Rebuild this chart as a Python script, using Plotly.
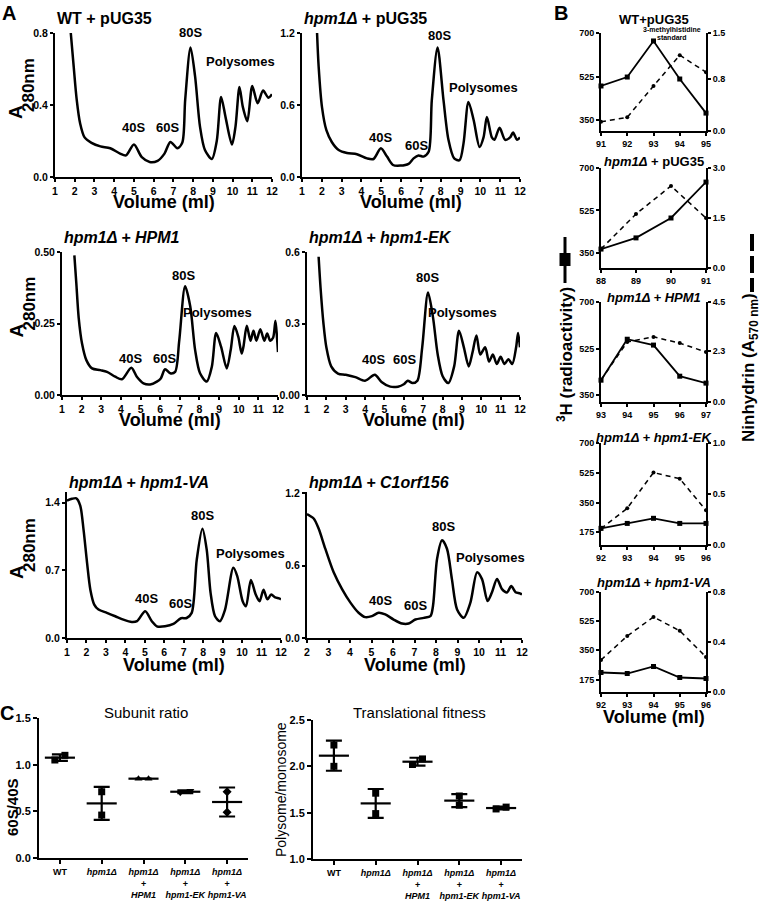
import plotly.graph_objects as go
import numpy as np

FONT = "Liberation Sans, Arial, Helvetica, sans-serif"
W, H = 760, 905

# ---------------- Panel A: polysome profiles (Volume ml vs A280) ----------------
a1_vol = [1.8, 1.95, 2.1, 2.27, 2.5, 2.85, 3.3, 3.8, 4.3, 4.6, 5.0, 5.4, 5.8, 6.2, 6.55, 6.85, 7.2, 7.45, 7.6, 7.87,
          8.1, 8.35, 8.6, 8.95, 9.2, 9.42, 9.65, 9.97, 10.15, 10.35, 10.52, 10.75, 11.0, 11.27, 11.55, 11.82, 12.0]
a1_abs = [0.80, 0.61, 0.43, 0.30, 0.22, 0.19, 0.17, 0.16, 0.13, 0.12, 0.18, 0.11, 0.083, 0.09, 0.13, 0.195, 0.16, 0.19, 0.43, 0.72,
          0.56, 0.28, 0.15, 0.10, 0.20, 0.445, 0.33, 0.18, 0.28, 0.50, 0.39, 0.31, 0.505, 0.41, 0.48, 0.44, 0.46]

a2_vol = [1.76, 1.84, 2.01, 2.23, 2.51, 2.85, 3.27, 3.77, 4.28, 4.61, 4.98, 5.29, 5.59, 5.96, 6.38, 6.63, 6.88, 7.13, 7.39, 7.55,
          7.84, 8.14, 8.39, 8.68, 8.95, 9.15, 9.40, 9.66, 9.96, 10.16, 10.33, 10.58, 10.71, 10.97, 11.25, 11.5, 11.65, 11.85, 12.0]
a2_abs = [1.2, 0.92, 0.58, 0.39, 0.29, 0.225, 0.20, 0.19, 0.155, 0.15, 0.24, 0.17, 0.10, 0.095, 0.11, 0.155, 0.18, 0.17, 0.21, 0.64,
          1.08, 0.64, 0.31, 0.155, 0.14, 0.28, 0.625, 0.475, 0.25, 0.33, 0.5, 0.33, 0.31, 0.41, 0.31, 0.33, 0.37, 0.31, 0.33]

a3_vol = [1.63, 1.73, 1.85, 2.02, 2.24, 2.53, 2.95, 3.29, 3.71, 4.05, 4.53, 4.81, 5.15, 5.49, 5.83, 6.03, 6.25, 6.51, 6.76, 6.97,
          7.27, 7.53, 7.78, 8.03, 8.37, 8.63, 8.85, 9.1, 9.39, 9.59, 9.78, 9.98, 10.15, 10.24, 10.41, 10.6, 10.75, 10.9, 11.1,
          11.3, 11.45, 11.6, 11.75, 11.87, 11.95, 12.0]
a3_abs = [0.488, 0.39, 0.27, 0.18, 0.122, 0.093, 0.087, 0.081, 0.064, 0.055, 0.095, 0.064, 0.041, 0.037, 0.047, 0.058, 0.09, 0.076,
          0.081, 0.19, 0.38, 0.31, 0.157, 0.076, 0.047, 0.099, 0.217, 0.169, 0.093, 0.157, 0.241, 0.203, 0.145, 0.169, 0.242, 0.19,
          0.225, 0.19, 0.23, 0.19, 0.215, 0.19, 0.2, 0.26, 0.2, 0.15]

a4_vol = [1.6, 1.7, 1.85, 2.0, 2.25, 2.6, 3.0, 3.5, 4.0, 4.5, 4.85, 5.3, 5.7, 6.0, 6.2, 6.45, 6.7, 6.95, 7.25, 7.5, 7.75, 8.0,
          8.3, 8.6, 8.85, 9.1, 9.35, 9.55, 9.75, 9.95, 10.2, 10.4, 10.6, 10.8, 11.0, 11.2, 11.4, 11.6, 11.8, 11.9, 12.0]
a4_abs = [0.58, 0.45, 0.3, 0.2, 0.12, 0.09, 0.085, 0.075, 0.06, 0.085, 0.055, 0.035, 0.035, 0.045, 0.06, 0.05, 0.06, 0.2, 0.43,
          0.33, 0.17, 0.08, 0.05, 0.12, 0.27, 0.2, 0.12, 0.18, 0.25, 0.17, 0.2, 0.14, 0.17, 0.13, 0.16, 0.13, 0.15, 0.13, 0.2, 0.26, 0.2]

a5_vol = [1.0, 1.26, 1.48, 1.68, 1.85, 2.03, 2.2, 2.4, 2.62, 3.05, 3.48, 3.9, 4.33, 4.6, 5.02, 5.36, 5.62, 6.04, 6.47, 6.86,
          7.15, 7.41, 7.67, 7.96, 8.18, 8.38, 8.61, 8.86, 9.12, 9.55, 9.75, 10.03, 10.2, 10.45, 10.7, 10.9, 11.1, 11.3, 11.5,
          11.7, 11.9, 12.0]
a5_abs = [1.42, 1.44, 1.445, 1.37, 1.12, 0.78, 0.50, 0.346, 0.294, 0.26, 0.225, 0.19, 0.166, 0.175, 0.277, 0.173, 0.121, 0.121,
          0.145, 0.204, 0.207, 0.26, 0.81, 1.13, 0.916, 0.467, 0.225, 0.173, 0.29, 0.726, 0.64, 0.38, 0.328, 0.6, 0.45, 0.38,
          0.5, 0.4, 0.45, 0.42, 0.41, 0.4]

a6_vol = [2.0, 2.31, 2.54, 2.85, 3.24, 3.63, 4.02, 4.4, 4.71, 5.02, 5.33, 5.64, 6.03, 6.42, 6.73, 7.04, 7.43, 7.74, 7.86, 8.05,
          8.28, 8.51, 8.74, 8.98, 9.29, 9.6, 9.91, 10.14, 10.4, 10.6, 10.84, 11.07, 11.3, 11.5, 11.7, 11.9, 12.0]
a6_abs = [1.027, 0.99, 0.907, 0.74, 0.544, 0.405, 0.293, 0.209, 0.173, 0.181, 0.209, 0.195, 0.153, 0.12, 0.12, 0.153, 0.167,
          0.181, 0.265, 0.656, 0.81, 0.74, 0.488, 0.237, 0.167, 0.293, 0.544, 0.488, 0.307, 0.377, 0.488, 0.405, 0.377, 0.43,
          0.38, 0.37, 0.36]

a_titles = ["<b>WT + pUG35</b>", "<b><i>hpm1Δ</i> + pUG35</b>", "<b><i>hpm1Δ + HPM1</i></b>",
            "<b><i>hpm1Δ + hpm1-EK</i></b>", "<b><i>hpm1Δ + hpm1-VA</i></b>", "<b><i>hpm1Δ + C1orf156</i></b>"]

# ---------------- Panel B: fractions, 3H (cpm) and ninhydrin (A570) ----------------
b_titles = ["<b>WT+pUG35</b>", "<b><i>hpm1Δ</i> + pUG35</b>", "<b><i>hpm1Δ + HPM1</i></b>",
            "<b><i>hpm1Δ + hpm1-EK</i></b>", "<b><i>hpm1Δ + hpm1-VA</i></b>"]
b1_vol = [91, 92, 93, 94, 95]
b1_h3 = [487, 523, 668, 515, 378]
b1_nin = [0.14, 0.21, 0.69, 1.16, 0.90]
b2_vol = [88, 89, 90, 91]
b2_h3 = [366, 412, 494, 642]
b2_nin = [0.57, 1.62, 2.46, 1.5]
b3_vol = [93, 94, 95, 96, 97]
b3_h3 = [406, 560, 538, 421, 395]
b3_nin = [0.99, 2.7, 2.93, 2.65, 2.25]
b4_vol = [92, 93, 94, 95, 96]
b4_h3 = [198, 227, 257, 227, 227]
b4_nin = [0.16, 0.36, 0.71, 0.65, 0.34]
b5_vol = [92, 93, 94, 95, 96]
b5_h3 = [217, 211, 253, 187, 181]
b5_nin = [0.256, 0.448, 0.6, 0.49, 0.28]

# ---------------- Panel C ----------------
c_strains = ["<b>WT</b>", "<i>hpm1Δ</i>", "<i>hpm1Δ</i><br>+<br><i>HPM1</i>",
             "<i>hpm1Δ</i><br>+<br><i>hpm1-EK</i>", "<i>hpm1Δ</i><br>+<br><i>hpm1-VA</i>"]
ratio_rep1 = [1.10, 0.71, 0.85, 0.72, 0.71]
ratio_rep2 = [1.05, 0.46, 0.85, 0.70, 0.49]
fitness_rep1 = [2.23, 1.71, 2.08, 1.68, 1.56]
fitness_rep2 = [2.00, 1.49, 2.02, 1.58, 1.54]

# ============================================================================
def fx(p):
    return p / W


def fy(p):
    return 1 - p / H


def tfont(size, weight="bold"):
    return dict(family=FONT, size=size, color="black", weight=weight)


def base_axis(size=11, ticklen=4):
    return dict(showline=True, linecolor="black", linewidth=2, showgrid=False, zeroline=False,
                ticks="outside", ticklen=ticklen, tickwidth=1.5, tickcolor="black", tickfont=tfont(size),
                tickangle=0, automargin=False)


fig = go.Figure()
layout = {}
annotations = []
shapes = []


def ann(text, x, y, size, angle=0, xanchor="center", yanchor="middle", weight="bold"):
    annotations.append(dict(text=text, x=fx(x), y=fy(y), xref="paper", yref="paper", showarrow=False,
                            textangle=angle, xanchor=xanchor, yanchor=yanchor, font=tfont(size, weight)))


# ---- Panel A axes
a_data = [(a1_vol, a1_abs), (a2_vol, a2_abs), (a3_vol, a3_abs), (a4_vol, a4_abs), (a5_vol, a5_abs), (a6_vol, a6_abs)]
a_boxes = [(55, 272, 33, 177), (302, 520, 33, 177), (62, 278, 252, 395),
           (307, 520, 252, 395), (67, 281, 492, 638), (307, 522, 492, 638)]
a_xr = [[1, 12], [1, 12], [1, 12], [1, 12], [1, 12], [2, 12]]
a_yr = [[0, 0.8], [0, 1.2], [0, 0.5], [0, 0.6], [0, 1.51], [0, 1.21]]
a_yt = [[0, 0.4, 0.8], [0, 0.6, 1.2], [0, 0.25, 0.5], [0, 0.3, 0.6], [0, 0.7, 1.4], [0, 0.6, 1.2]]
a_ytt = [["0.0", "0.4", "0.8"], ["0.0", "0.6", "1.2"], ["0.00", "0.25", "0.50"], ["0.00", "0.3", "0.6"],
         ["0.0", "0.7", "1.4"], ["0.0", "0.6", "1.2"]]
a_title_y = [18, 18, 238, 238, 482, 482]
a_vol_dy = [25, 25, 25, 25, 27, 27]

for i in range(6):
    n = i + 1
    x0, x1, yt, yb = a_boxes[i]
    xa = base_axis(10.5, 3)
    xa.update(domain=[fx(x0), fx(x1)], anchor=f"y{n}", range=a_xr[i],
              tickvals=list(range(a_xr[i][0], 13)))
    ya = base_axis(10.5, 3)
    ya.update(domain=[fy(yb), fy(yt)], anchor=f"x{n}", range=a_yr[i], tickvals=a_yt[i], ticktext=a_ytt[i])
    layout[f"xaxis{n}"] = xa
    layout[f"yaxis{n}"] = ya
    vx, vy = a_data[i]
    fig.add_trace(go.Scatter(x=vx, y=vy, mode="lines", xaxis=f"x{n}", yaxis=f"y{n}",
                             line=dict(color="black", width=2.5, shape="spline", smoothing=0.8),
                             showlegend=False, hoverinfo="skip"))
    ann(a_titles[i], x0, a_title_y[i], 16, xanchor="left")
    ann("Volume (ml)", (x0 + x1) / 2, yb + a_vol_dy[i], 18)
    if i % 2 == 0:
        cy = (yt + yb) / 2
        ann("A", 16, cy + 7, 19, angle=-90)
        ann("280nm", 29, cy - 20, 17, angle=-90)

# peak labels
peak_labels = [
    (133, 127, 167, 127, 190, 33, 240, 62),
    (381, 137, 416, 145, 439, 35, 483, 87),
    (130, 358, 164, 358, 183, 275, 217, 312),
    (373, 359, 404, 359, 427, 277, 462, 312),
    (146, 598, 180, 603, 202, 515, 250, 553),
    (380, 600, 415, 605, 443, 526, 490, 557),
]
for (x40, y40, x60, y60, x80, y80, xp, yp) in peak_labels:
    ann("40S", x40, y40, 13)
    ann("60S", x60, y60, 13)
    ann("80S", x80, y80, 13)
    ann("Polysomes", xp, yp, 13)

# ---- Panel B
b_data = [(b1_vol, b1_h3, b1_nin), (b2_vol, b2_h3, b2_nin), (b3_vol, b3_h3, b3_nin),
          (b4_vol, b4_h3, b4_nin), (b5_vol, b5_h3, b5_nin)]
b_box_y = [(33, 131), (168, 268), (302, 402), (443, 545), (592, 692)]
b_title_y = [19, 161, 297, 437, 582]
b_lr = [[306, 700], [288, 700], [324, 700], [100, 700], [100, 700]]
b_lt = [[350, 525, 700], [350, 525, 700], [350, 525, 700], [175, 350, 525, 700], [175, 350, 525, 700]]
b_rr = [[0, 1.5], [0, 3.0], [0, 4.5], [0, 1.0], [0, 0.8]]
b_rt = [[0, 0.8, 1.5], [0, 1.5, 3.0], [0, 2.3, 4.5], [0, 0.5, 1.0], [0, 0.4, 0.8]]
BX0, BX1 = 601, 706
for i in range(5):
    xn = 7 + i
    yl = 7 + i
    yr = 12 + i
    yt, yb = b_box_y[i]
    vols, h3, nin = b_data[i]
    xa = base_axis(9, 3)
    xa.update(domain=[fx(BX0), fx(BX1)], anchor=f"y{yl}", range=[vols[0], vols[-1]], tickvals=vols)
    yla = base_axis(9, 3)
    yla.update(domain=[fy(yb), fy(yt)], anchor=f"x{xn}", range=b_lr[i], tickvals=b_lt[i])
    yra = base_axis(9, 3)
    yra.update(domain=[fy(yb), fy(yt)], anchor=f"x{xn}", range=b_rr[i], tickvals=b_rt[i],
               ticktext=[f"{v:.1f}" for v in b_rt[i]], overlaying=f"y{yl}", side="right")
    layout[f"xaxis{xn}"] = xa
    layout[f"yaxis{yl}"] = yla
    layout[f"yaxis{yr}"] = yra
    fig.add_trace(go.Scatter(x=vols, y=h3, mode="lines+markers", xaxis=f"x{xn}", yaxis=f"y{yl}",
                             line=dict(color="black", width=1.8), marker=dict(symbol="square", size=5, color="black"),
                             showlegend=False, hoverinfo="skip", cliponaxis=False))
    fig.add_trace(go.Scatter(x=vols, y=nin, mode="lines+markers", xaxis=f"x{xn}", yaxis=f"y{yr}",
                             line=dict(color="black", width=1.5, dash="5px,4px"),
                             marker=dict(symbol="circle", size=4, color="black"),
                             showlegend=False, hoverinfo="skip", cliponaxis=False))
    ann(b_titles[i], (BX0 + BX1) / 2, b_title_y[i], 13)

ann("<b>3-methylhistidine</b>", 672, 30, 7)
ann("<b>standard</b>", 672, 38, 7)
ann("Volume (ml)", (BX0 + BX1) / 2, 717, 18)

# side labels of panel B
ann("<sup>3</sup>H (radioactivity)", 565, 355, 17, angle=-90)
ann("Ninhydrin (A<sub>570 nm</sub>)", 750, 368, 17, angle=-90)
shapes.append(dict(type="line", xref="paper", yref="paper", x0=fx(565), x1=fx(565), y0=fy(237), y1=fy(283),
                   line=dict(color="black", width=3)))
shapes.append(dict(type="rect", xref="paper", yref="paper", x0=fx(559.5), x1=fx(570.5), y0=fy(266), y1=fy(253),
                   fillcolor="black", line=dict(width=0)))
for d0, d1 in [(234, 251), (256, 273), (278, 292)]:
    shapes.append(dict(type="line", xref="paper", yref="paper", x0=fx(752), x1=fx(752), y0=fy(d0), y1=fy(d1),
                       line=dict(color="black", width=4)))

# ---- Panel C
c_boxes = [(39, 248, 718, 858), (313, 522, 720, 859)]
c_yr = [[0, 1.5], [1, 2.5]]
c_yt = [[0, 0.5, 1.0, 1.5], [1.0, 1.5, 2.0, 2.5]]
c_data = [(ratio_rep1, ratio_rep2), (fitness_rep1, fitness_rep2)]
c_sym = [["square", "square", "triangle-up", "triangle-down", "diamond"], ["square"] * 5]
c_titles = ["Subunit ratio", "Translational fitness"]
c_ylab = [("60S/40S", 12, 807, 15, "bold"), ("Polysome/monosome", 281, 790, 14, "normal")]
for k in range(2):
    xn = 12 + k
    yn = 17 + k
    x0, x1, yt, yb = c_boxes[k]
    xa = base_axis(9, 4)
    xa.update(domain=[fx(x0), fx(x1)], anchor=f"y{yn}", range=[-0.5, 4.5], tickvals=list(range(5)),
              ticktext=c_strains)
    ya = base_axis(11)
    ya.update(domain=[fy(yb), fy(yt)], anchor=f"x{xn}", range=c_yr[k], tickvals=c_yt[k], tickformat=".1f")
    layout[f"xaxis{xn}"] = xa
    layout[f"yaxis{yn}"] = ya
    r1, r2 = c_data[k]
    vals = np.array([r1, r2])
    means = vals.mean(axis=0)
    sds = vals.std(axis=0, ddof=1)
    for g in range(5):
        off = 0.12 if abs(r1[g] - r2[g]) < 0.07 else 0.0
        fig.add_trace(go.Scatter(x=[g + off, g - off], y=[r1[g], r2[g]], mode="markers",
                                 xaxis=f"x{xn}", yaxis=f"y{yn}",
                                 marker=dict(symbol=c_sym[k][g], size=7, color="black"),
                                 showlegend=False, hoverinfo="skip"))
        fig.add_trace(go.Scatter(x=[g - 0.36, g + 0.36], y=[means[g], means[g]], mode="lines",
                                 xaxis=f"x{xn}", yaxis=f"y{yn}", line=dict(color="black", width=2.2),
                                 showlegend=False, hoverinfo="skip"))
        fig.add_trace(go.Scatter(x=[g], y=[means[g]], mode="markers", xaxis=f"x{xn}", yaxis=f"y{yn}",
                                 marker=dict(size=1, color="rgba(0,0,0,0)"),
                                 error_y=dict(type="data", array=[sds[g]], visible=True, color="black",
                                              thickness=2.2, width=8),
                                 showlegend=False, hoverinfo="skip"))
    ann(c_titles[k], (x0 + x1) / 2 + 2, 712, 15, weight="normal")
    t, lx, ly, ls, lw = c_ylab[k]
    ann(t, lx, ly, ls, angle=-90, weight=lw)

# panel letters
ann("A", 9, 13, 20)
ann("B", 561, 13, 20)
ann("C", 7, 713, 20)

layout.update(width=W, height=H, autosize=False, margin=dict(l=0, r=0, t=0, b=0, autoexpand=False),
              paper_bgcolor="white", plot_bgcolor="rgba(0,0,0,0)", showlegend=False,
              annotations=annotations, shapes=shapes, font=dict(family=FONT, color="black"))
fig.update_layout(**layout)
fig.write_html("out.html", config={"displayModeBar": False},
               post_script="document.body.style.margin='0px';document.body.style.overflow='hidden';")
